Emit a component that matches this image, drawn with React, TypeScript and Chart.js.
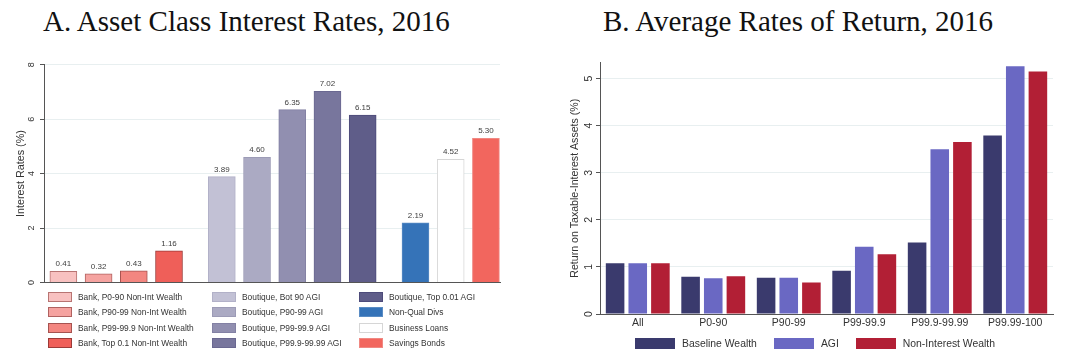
import React, { useEffect, useRef } from "react";
import { Chart, registerables } from "chart.js";

Chart.register(...registerables);

// ---------- Panel A data ----------
const assetLabels = [
  "Bank, P0-90 Non-Int Wealth",
  "Bank, P90-99 Non-Int Wealth",
  "Bank, P99-99.9 Non-Int Wealth",
  "Bank, Top 0.1 Non-Int Wealth",
  "Boutique, Bot 90 AGI",
  "Boutique, P90-99 AGI",
  "Boutique, P99-99.9 AGI",
  "Boutique, P99.9-99.99 AGI",
  "Boutique, Top 0.01 AGI",
  "Non-Qual Divs",
  "Business Loans",
  "Savings Bonds",
];
const assetGroups = [0, 0, 0, 0, 1, 1, 1, 1, 1, 2, 2, 2];
const assetRates = [0.41, 0.32, 0.43, 1.16, 3.89, 4.6, 6.35, 7.02, 6.15, 2.19, 4.52, 5.3];
const assetFill = [
  "#f8c1c0", "#f5a3a0", "#f38680", "#ef5f59",
  "#c2c1d5", "#abaac3", "#918fb0", "#78769d", "#5f5d89",
  "#3573b8", "#ffffff", "#f2665e",
];
const assetBorder = [
  "#b87472", "#b06260", "#a65350", "#9c3b38",
  "#b2b1c8", "#9c9bb6", "#8381a4", "#6a6891", "#4d4b7a",
  "#5a8cc4", "#d6d6d6", "#f08882",
];
const rateTicks = [0, 2, 4, 6, 8];

// ---------- Panel B data ----------
const returnCategories = ["All", "P0-90", "P90-99", "P99-99.9", "P99.9-99.99", "P99.99-100"];
const baselineWealth = [1.08, 0.79, 0.77, 0.92, 1.52, 3.79];
const agiReturns = [1.08, 0.76, 0.77, 1.43, 3.5, 5.26];
const nonInterestWealth = [1.08, 0.8, 0.67, 1.27, 3.65, 5.15];
const returnSeriesNames = ["Baseline Wealth", "AGI", "Non-Interest Wealth"];
const returnColors = ["#3a3a6d", "#6a68c3", "#b21f35"];
const returnTicks = [0, 1, 2, 3, 4, 5];

const SANS = "'Liberation Sans', Arial, Helvetica, sans-serif";
const SERIF = "'Liberation Serif', 'Times New Roman', serif";
const AXIS = "#555555";
const GRID = "#e8eff0";
const TEXT = "#333333";

const valueLabelPlugin = {
  id: "valueLabels",
  afterDatasetsDraw(chart: any) {
    const ctx = chart.ctx;
    ctx.save();
    ctx.font = `8px ${SANS}`;
    ctx.fillStyle = "#404040";
    ctx.textAlign = "center";
    ctx.textBaseline = "alphabetic";
    chart.data.datasets.forEach((ds: any, di: number) => {
      const meta = chart.getDatasetMeta(di);
      meta.data.forEach((el: any, j: number) => {
        const v = ds.data[j].y as number;
        ctx.fillText(v.toFixed(2), el.x, el.y - 5);
      });
    });
    ctx.restore();
  },
};

export default function App() {
  const leftRef = useRef<HTMLCanvasElement>(null);
  const rightRef = useRef<HTMLCanvasElement>(null);

  useEffect(() => {
    const positions = assetGroups.map((g, i) => i + 0.5 * g);
    const left = new Chart(leftRef.current!, {
      type: "bar",
      data: {
        datasets: assetLabels.map((label, i) => ({
          label,
          data: [{ x: positions[i], y: assetRates[i] }],
          backgroundColor: assetFill[i],
          borderColor: assetBorder[i],
          borderWidth: 1,
          barThickness: 27,
          grouped: false,
        })),
      },
      options: {
        responsive: false,
        animation: false,
        layout: { padding: { left: 0, top: 64.7, right: 40, bottom: 80.5 } },
        plugins: { legend: { display: false }, tooltip: { enabled: false } },
        scales: {
          x: {
            type: "linear",
            min: -0.55,
            max: 12.4,
            offset: false,
            ticks: { display: false },
            grid: { display: false, drawTicks: false },
            border: { display: true, color: AXIS, width: 1 },
            afterFit: (s: any) => {
              s.height = 0;
            },
          },
          y: {
            min: rateTicks[0],
            max: rateTicks[rateTicks.length - 1],
            afterBuildTicks: (s: any) => {
              s.ticks = rateTicks.map((v) => ({ value: v }));
            },
            ticks: {
              minRotation: 90,
              maxRotation: 90,
              crossAlign: "center",
              padding: 5.5,
              font: { size: 9, family: SANS },
              color: TEXT,
            },
            grid: { color: GRID, tickLength: 4, tickColor: AXIS, drawTicks: true },
            border: { display: true, color: AXIS, width: 1 },
            title: {
              display: true,
              text: "Interest Rates (%)",
              font: { size: 10.8, family: SANS },
              color: TEXT,
              padding: { top: 14.5, bottom: 0 },
            },
            afterFit: (s: any) => {
              s.width = 44;
            },
          },
        },
      } as any,
      plugins: [valueLabelPlugin],
    });

    const series = [baselineWealth, agiReturns, nonInterestWealth];
    const right = new Chart(rightRef.current!, {
      type: "bar",
      data: {
        labels: returnCategories,
        datasets: returnSeriesNames.map((label, i) => ({
          label,
          data: series[i],
          backgroundColor: returnColors[i],
          borderWidth: 0,
          categoryPercentage: 0.9,
          barPercentage: 0.82,
        })),
      },
      options: {
        responsive: false,
        animation: false,
        layout: { padding: { left: 0, top: 62.5, right: 27, bottom: 29 } },
        plugins: { legend: { display: false }, tooltip: { enabled: false } },
        scales: {
          x: {
            type: "category",
            grid: { display: false, drawTicks: false },
            border: { display: true, color: AXIS, width: 1 },
            ticks: {
              font: { size: 10.5, family: SANS },
              color: TEXT,
              padding: 3,
              maxRotation: 0,
              autoSkip: false,
            },
            afterFit: (s: any) => {
              s.height = 20;
            },
          },
          y: {
            min: 0,
            max: 5.34,
            afterBuildTicks: (s: any) => {
              s.ticks = returnTicks.map((v) => ({ value: v }));
            },
            ticks: {
              minRotation: 90,
              maxRotation: 90,
              crossAlign: "center",
              padding: 4,
              font: { size: 10.5, family: SANS },
              color: TEXT,
            },
            grid: { color: GRID, tickLength: 4, tickColor: AXIS, drawTicks: true },
            border: { display: true, color: AXIS, width: 1 },
            title: {
              display: true,
              text: "Return on Taxable-Interest Assets (%)",
              font: { size: 10.6, family: SANS },
              color: TEXT,
              padding: { top: 28.7, bottom: 0 },
            },
            afterFit: (s: any) => {
              s.width = 60;
            },
          },
        },
      } as any,
    });

    return () => {
      left.destroy();
      right.destroy();
    };
  }, []);

  const titleStyle = (leftPx: number): React.CSSProperties => ({
    position: "absolute",
    left: leftPx,
    top: 6.7,
    fontFamily: SERIF,
    fontSize: 29,
    lineHeight: "29px",
    color: "#111",
    whiteSpace: "nowrap",
  });

  return (
    <div
      style={{
        position: "fixed",
        left: 0,
        top: 0,
        width: 1080,
        height: 363,
        background: "#ffffff",
        overflow: "hidden",
      }}
    >
      <div style={titleStyle(43)}>A. Asset Class Interest Rates, 2016</div>
      <div style={titleStyle(603)}>B. Average Rates of Return, 2016</div>
      <canvas
        ref={leftRef}
        width={540}
        height={363}
        style={{ position: "absolute", left: 0, top: 0, display: "block" }}
      />
      <canvas
        ref={rightRef}
        width={540}
        height={363}
        style={{ position: "absolute", left: 540, top: 0, display: "block" }}
      />
      <div
        style={{
          position: "absolute",
          left: 48,
          top: 289.3,
          display: "grid",
          gridTemplateColumns: "164px 147px auto",
          gridTemplateRows: "repeat(4, 15.3px)",
          gridAutoFlow: "column",
        }}
      >
        {assetLabels.map((label, i) => (
          <div key={label} style={{ display: "flex", alignItems: "center" }}>
            <div
              style={{
                width: 24,
                height: 10,
                boxSizing: "border-box",
                background: assetFill[i],
                border: `1px solid ${assetBorder[i]}`,
                marginRight: 6,
                flex: "none",
              }}
            />
            <span
              style={{
                fontFamily: SANS,
                fontSize: 8.4,
                color: TEXT,
                whiteSpace: "nowrap",
              }}
            >
              {label}
            </span>
          </div>
        ))}
      </div>
      <div
        style={{
          position: "absolute",
          left: 635,
          top: 337.5,
          height: 11,
          display: "flex",
          alignItems: "center",
        }}
      >
        {returnSeriesNames.map((label, i) => (
          <div
            key={label}
            style={{ display: "flex", alignItems: "center", marginRight: 17 }}
          >
            <div
              style={{
                width: 40,
                height: 11,
                background: returnColors[i],
                marginRight: 7,
                flex: "none",
              }}
            />
            <span
              style={{
                fontFamily: SANS,
                fontSize: 10.4,
                color: TEXT,
                whiteSpace: "nowrap",
              }}
            >
              {label}
            </span>
          </div>
        ))}
      </div>
    </div>
  );
}
